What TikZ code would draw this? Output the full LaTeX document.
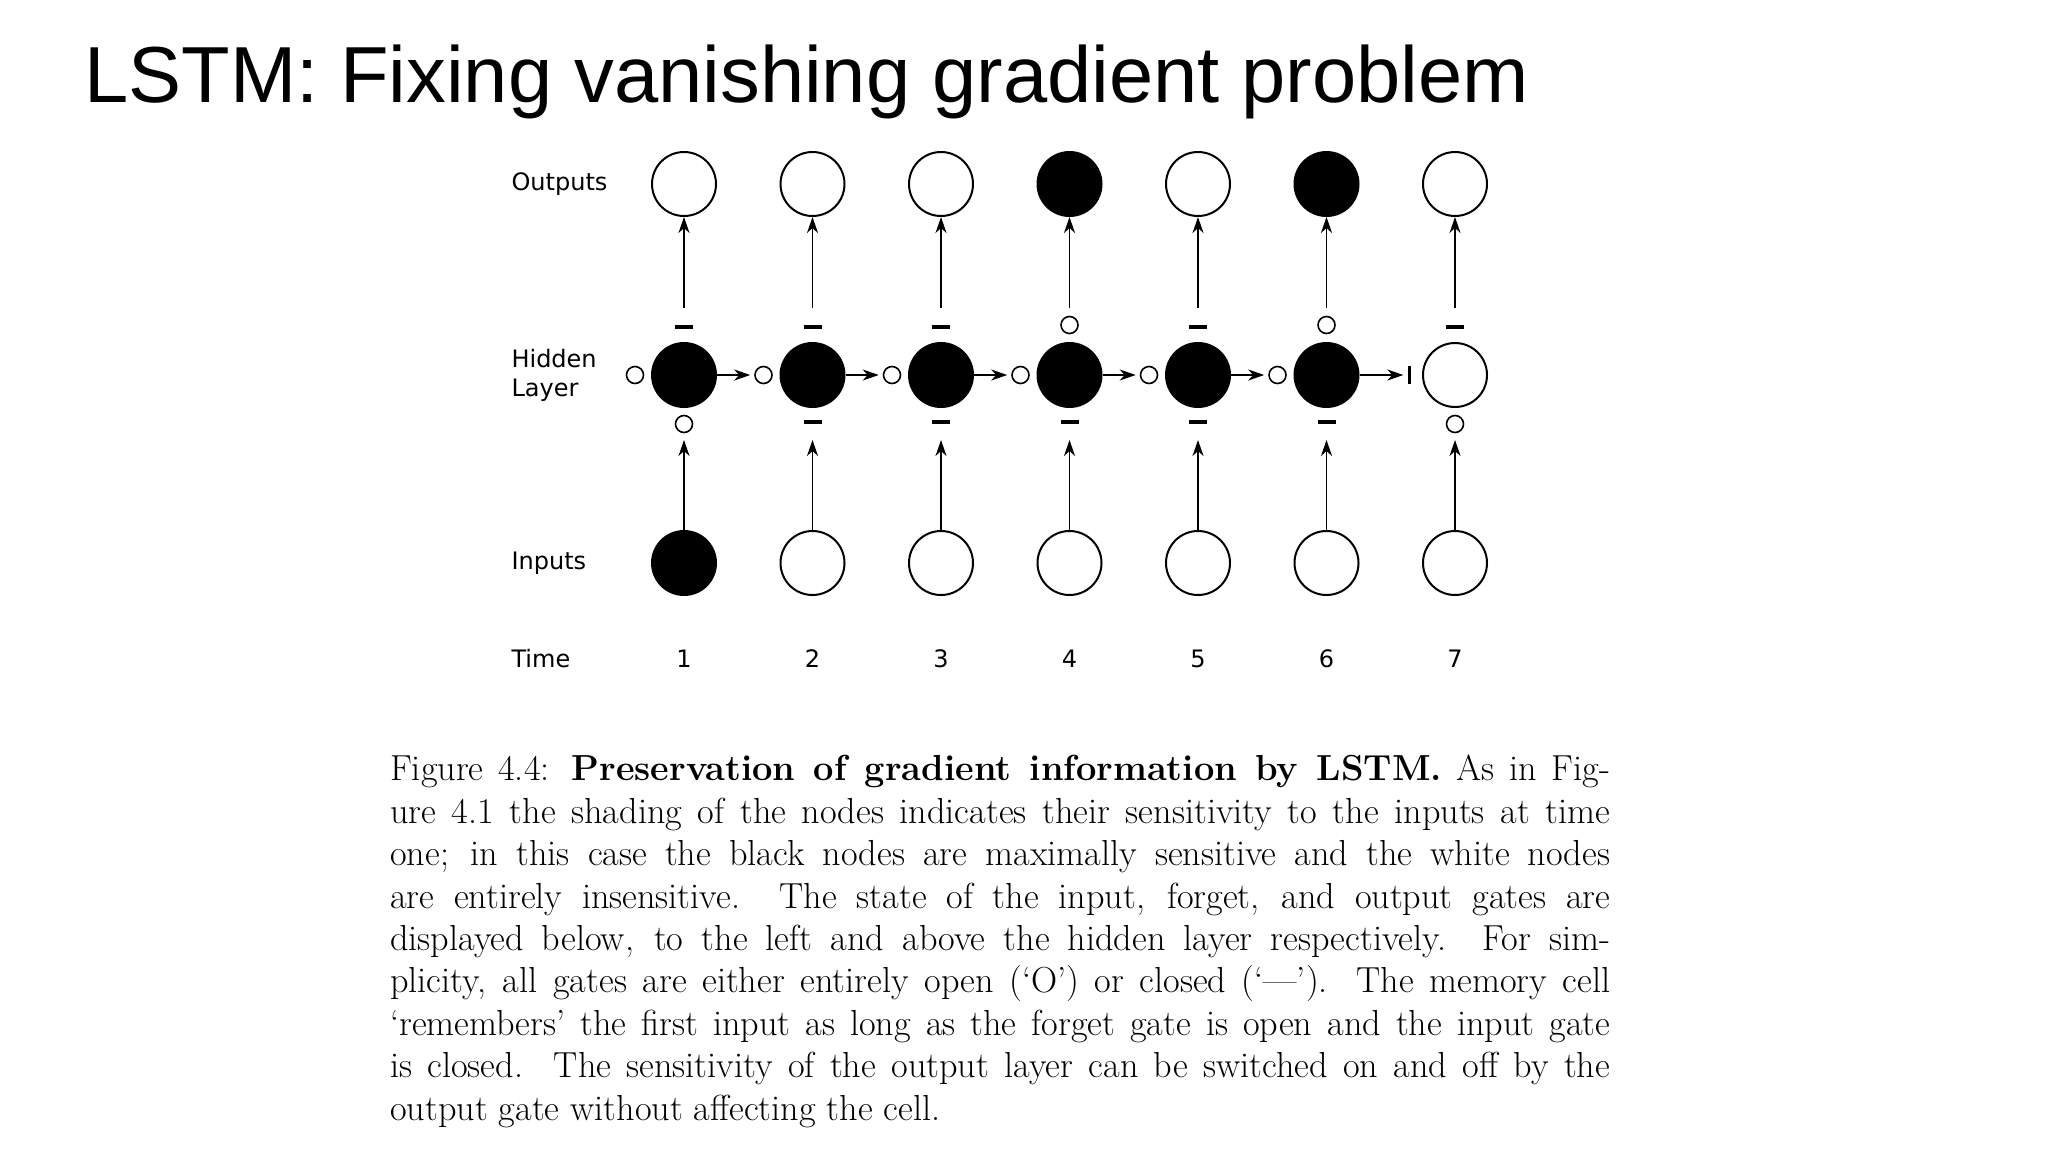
\documentclass[tikz,border=0pt]{standalone}
\usepackage{fontspec}
\setmainfont{Latin Modern Roman}
\newfontfamily\titlefont{Liberation Sans}
\newfontfamily\labfont{DejaVu Sans}
\usetikzlibrary{arrows.meta}
\begin{document}
\begin{tikzpicture}[x=1pt,y=-1pt,
  big/.style={circle,draw,line width=2pt,minimum size=64pt,inner sep=0pt},
  blk/.style={big,fill=black},
  gate/.style={circle,draw,line width=1.6pt,minimum size=17pt,inner sep=0pt},
  bar/.style={minimum width=18pt,minimum height=3.5pt,inner sep=0pt,fill=black},
  vbar/.style={minimum width=3pt,minimum height=18pt,inner sep=0pt,fill=black},
  arr/.style={line width=1.8pt,-{Stealth[length=16pt,width=11pt,inset=5pt]}},
  lab/.style={font=\labfont\fontsize{24}{29}\selectfont,anchor=west}]
\useasboundingbox (0,0) rectangle (2048,1152);
\node[anchor=base west,font=\titlefont\fontsize{79.5}{85}\selectfont,inner sep=0pt] (title) at (84,102) {LSTM: Fixing vanishing gradient problem};
\node[lab] (lo) at (508,184) {Outputs};
\node[lab,align=left] (lh) at (508,375) {Hidden\\Layer};
\node[lab] (li) at (508,563) {Inputs};
\node[lab] (lt) at (508,659) {Time};
\foreach \i/\o/\h/\n/\ig/\og in {1/big/blk/blk/c/b,2/big/blk/big/b/b,3/big/blk/big/b/b,4/blk/blk/big/b/c,5/big/blk/big/b/b,6/blk/blk/big/b/c,7/big/big/big/c/b}{
  \pgfmathsetmacro{\x}{684+128.5*(\i-1)}
  \node[\o] (o\i) at (\x,184) {};
  \node[\h] (h\i) at (\x,375) {};
  \node[\n] (n\i) at (\x,563) {};
  \node[lab,anchor=center] (t\i) at (\x,659) {\i};
  \if\ig c\node[gate] (ig\i) at (\x,424) {};\else\node[bar] (ig\i) at (\x,422) {};\fi
  \if\og c\node[gate] (og\i) at (\x,325) {};\else\node[bar] (og\i) at (\x,327) {};\fi
  \coordinate (ie\i) at (\x,440);
  \coordinate (os\i) at (\x,308);
  \draw[arr] (n\i) -- (ie\i);
  \draw[arr] (os\i) -- (o\i);
}
\foreach \i in {1,...,6}{
  \pgfmathsetmacro{\x}{684+128.5*(\i-1)-49}
  \node[gate] (fg\i) at (\x,375) {};
}
\node[vbar] (fg7) at (1455-46,375) {};
\foreach \i/\j in {1/2,2/3,3/4,4/5,5/6,6/7}{
  \draw[arr] (h\i) -- ([xshift=-4pt]fg\j.west);
}
\node[anchor=north west,inner sep=0pt,text width=1220pt,align=justify,font=\fontsize{36.2}{42.4}\selectfont] (cap) at (390,755) {%
Figure 4.4: \textbf{Preservation of gradient information by LSTM.} As in Fig-\linebreak
ure 4.1 the shading of the nodes indicates their sensitivity to the inputs at time\linebreak
one; in this case the black nodes are maximally sensitive and the white nodes\linebreak
are entirely insensitive.\ \ The state of the input, forget, and output gates are\linebreak
displayed below, to the left and above the hidden layer respectively.\ \ For sim-\linebreak
plicity, all gates are either entirely open (`O') or closed (`---'). The memory cell\linebreak
`remembers' the first input as long as the forget gate is open and the input gate\linebreak
is closed.\ \ The sensitivity of the output layer can be switched on and off by the\linebreak
output gate without affecting the cell.\par};
\end{tikzpicture}
\end{document}
